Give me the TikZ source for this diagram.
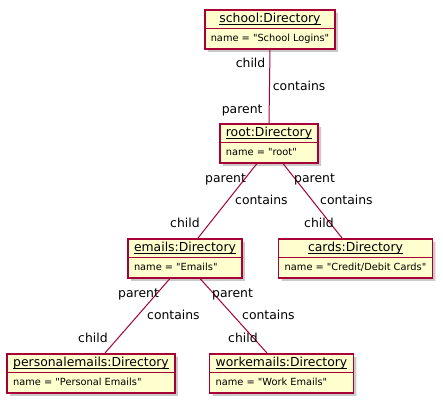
\documentclass[tikz,border=0pt]{standalone}
\usepackage{fontspec}
\newfontfamily\umlfont{DejaVu Sans}
\usetikzlibrary{shapes.multipart,shadows}

\definecolor{umlred}{HTML}{A80036}
\definecolor{umlfill}{HTML}{FEFECE}

\newcommand{\titlefont}{\umlfont\fontsize{12.4}{15}\selectfont}
\newcommand{\bodyfont}{\umlfont\fontsize{9.8}{12}\selectfont}
\newcommand{\rolefont}{\umlfont\fontsize{12.4}{15}\selectfont}
\newcommand{\objul}[1]{\setbox0\hbox{#1}\rlap{\rule[-2.4pt]{\wd0}{0.7pt}}\box0}
\newcommand{\objtitle}[1]{\rule[-5pt]{0pt}{17pt}\titlefont\objul{#1}}
\newcommand{\objbody}[1]{\rule[-6.5pt]{0pt}{19pt}\bodyfont #1}

\tikzset{
  obj/.style={rectangle split, rectangle split parts=2,
    rectangle split part align={center,left},
    draw=umlred, fill=umlfill, line width=1.5pt,
    inner xsep=6pt, inner ysep=0pt, anchor=north,
    drop shadow={shadow xshift=3pt, shadow yshift=-3pt, opacity=0.35, fill=black!60}},
  rel/.style={draw=umlred, line width=1pt},
  role/.style={font=\rolefont, anchor=base west, inner sep=0pt},
}

\begin{document}
\begin{tikzpicture}[x=1pt,y=-1pt]
\useasboundingbox (0,0) rectangle (443,400);

% objects
\node[obj] (school) at (270,9) {\objtitle{school:Directory}\nodepart{two}\objbody{name = "School Logins"}};
\node[obj] (root) at (269,123) {\objtitle{root:Directory}\nodepart{two}\objbody{name = "root"}};
\node[obj] (emails) at (185,238) {\objtitle{emails:Directory}\nodepart{two}\objbody{name = "Emails"}};
\node[obj] (cards) at (355.5,238) {\objtitle{cards:Directory}\nodepart{two}\objbody{name = "Credit/Debit Cards"}};
\node[obj] (personal) at (91,353) {\objtitle{personalemails:Directory}\nodepart{two}\objbody{name = "Personal Emails"}};
\node[obj] (work) at (281.5,353) {\objtitle{workemails:Directory}\nodepart{two}\objbody{name = "Work Emails"}};

% links
\draw[rel] (school.south) -- (root.north);
\draw[rel] ([xshift=-12pt]root.south) -- ([xshift=13pt]emails.north);
\draw[rel] ([xshift=14pt]root.south) -- ([xshift=-13.5pt]cards.north);
\draw[rel] ([xshift=-15pt]emails.south) -- ([xshift=14pt]personal.north);
\draw[rel] ([xshift=15pt]emails.south) -- ([xshift=-14.5pt]work.north);

% roles
\node[role, anchor=base east] (schoolchild) at (265.5,67) {child};
\node[role] (schoolrel) at (272.7,90) {contains};
\node[role, anchor=base east] (schoolparent) at (262.7,113) {parent};

\node[role] (emailsparent) at (205,182) {parent};
\node[role] (emailsrel) at (235,204) {contains};
\node[role] (emailschild) at (170,227) {child};

\node[role] (cardsparent) at (294,182) {parent};
\node[role] (cardsrel) at (320,204) {contains};
\node[role] (cardschild) at (304,227) {child};

\node[role] (personalparent) at (118,297) {parent};
\node[role] (personalrel) at (147,319) {contains};
\node[role] (personalchild) at (78,342) {child};

\node[role] (workparent) at (212,297) {parent};
\node[role] (workrel) at (242,319) {contains};
\node[role] (workchild) at (228,342) {child};
\end{tikzpicture}
\end{document}
